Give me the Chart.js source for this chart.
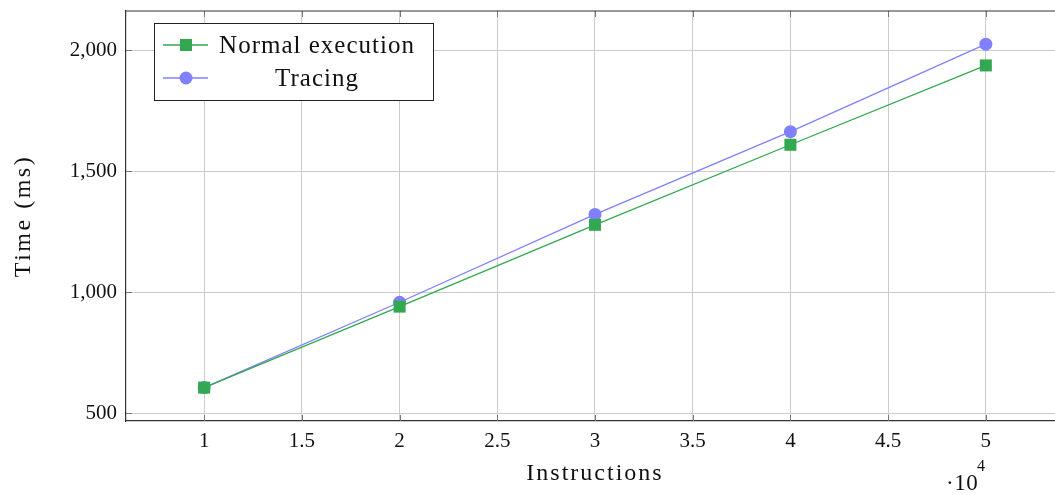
<!DOCTYPE html>
<html>
<head>
<meta charset="utf-8">
<script src="https://cdn.jsdelivr.net/npm/chart.js@4.4.0/dist/chart.umd.min.js"></script>
<style>
  html, body { margin: 0; padding: 0; background: #fff; overflow: hidden; }
  #wrap { width: 1055px; height: 495px; overflow: hidden; }
  #wrap canvas { display: block; }
</style>
</head>
<body>
<div id="wrap"><canvas id="chart" width="1064" height="495"></canvas></div>
<script>
const instructions = [1, 2, 3, 4, 5];           // x 10^4
const normalTimes = [606, 941, 1279, 1610, 1938];
const tracingTimes = [606, 959, 1322, 1664, 2026];
const xTicks = [1, 1.5, 2, 2.5, 3, 3.5, 4, 4.5, 5];
const yTicks = [500, 1000, 1500, 2000];
const xTitle = 'Instructions';
const yTitle = 'Time (ms)';

const serif = "'Liberation Serif', 'DejaVu Serif', serif";
const green = 'rgb(50, 168, 80)';
const blue = 'rgb(128, 128, 255)';

const toPoints = (ys) => instructions.map((x, i) => ({ x: x, y: ys[i] }));

// no extra margins for labels, chart area is set by the axis sizes
const noPad = (s) => { s.paddingTop = 0; s.paddingBottom = 0; s.paddingLeft = 0; s.paddingRight = 0; };

// inside tick marks, top frame, axis titles, legend and the axis multiplier
const extras = {
  id: 'extras',
  afterDraw(chart) {
    const ctx = chart.ctx;
    const a = chart.chartArea;
    const xs = chart.scales.x, ys = chart.scales.y;
    ctx.save();
    ctx.strokeStyle = '#777';
    ctx.lineWidth = 1;
    ctx.beginPath();
    xTicks.forEach(v => {
      const px = Math.round(xs.getPixelForValue(v)) + 0.5;
      ctx.moveTo(px, a.bottom); ctx.lineTo(px, a.bottom - 6);
      ctx.moveTo(px, a.top); ctx.lineTo(px, a.top + 6);
    });
    yTicks.forEach(v => {
      const py = Math.round(ys.getPixelForValue(v)) + 0.5;
      ctx.moveTo(a.left, py); ctx.lineTo(a.left + 6, py);
    });
    ctx.stroke();

    ctx.strokeStyle = '#333';
    ctx.lineWidth = 1.2;
    ctx.beginPath();
    ctx.moveTo(a.left, a.top); ctx.lineTo(a.right, a.top);
    ctx.stroke();

    // axis titles
    ctx.fillStyle = '#111';
    ctx.textAlign = 'center';
    ctx.textBaseline = 'middle';
    ctx.font = '24px ' + serif;
    ctx.letterSpacing = '2px';
    ctx.fillText(xTitle, 595, 474);
    ctx.save();
    ctx.translate(24, 216);
    ctx.rotate(-Math.PI / 2);
    ctx.letterSpacing = '2.5px';
    ctx.fillText(yTitle, 0, 0);
    ctx.restore();

    // legend
    const lx = 154.5, ly = 23.5, lw = 279, lh = 77;
    ctx.fillStyle = '#fff';
    ctx.fillRect(lx, ly, lw, lh);
    ctx.strokeStyle = '#222';
    ctx.lineWidth = 1;
    ctx.strokeRect(lx, ly, lw, lh);
    ctx.font = '25px ' + serif;
    ctx.letterSpacing = '1px';
    chart.data.datasets.forEach((ds, i) => {
      const cy = 45 + i * 33;
      ctx.strokeStyle = ds.borderColor;
      ctx.lineWidth = 1.3;
      ctx.beginPath();
      ctx.moveTo(163, cy); ctx.lineTo(208, cy);
      ctx.stroke();
      ctx.fillStyle = ds.backgroundColor;
      if (ds.pointStyle === 'rect') {
        ctx.fillRect(180, cy - 6, 12, 12);
      } else {
        ctx.beginPath();
        ctx.arc(186, cy, 6.5, 0, Math.PI * 2);
        ctx.fill();
      }
      ctx.fillStyle = '#111';
      ctx.fillText(ds.label, 317, cy + 1);
    });

    // x multiplier
    ctx.letterSpacing = '0.5px';
    ctx.fillStyle = '#111';
    ctx.textAlign = 'left';
    ctx.font = '23px ' + serif;
    ctx.fillText('\u00b710', 946, 484);
    ctx.font = '16px ' + serif;
    ctx.fillText('4', 977, 467);
    ctx.restore();
  }
};

new Chart(document.getElementById('chart'), {
  type: 'line',
  data: {
    datasets: [
      {
        label: 'Normal execution',
        data: toPoints(normalTimes),
        borderColor: green,
        backgroundColor: green,
        borderWidth: 1.3,
        pointStyle: 'rect',
        pointRadius: 8.5,
        pointBorderWidth: 0,
        tension: 0
      },
      {
        label: 'Tracing',
        data: toPoints(tracingTimes),
        borderColor: blue,
        backgroundColor: blue,
        borderWidth: 1.3,
        pointStyle: 'circle',
        pointRadius: 6.5,
        pointBorderWidth: 0,
        tension: 0
      }
    ]
  },
  options: {
    responsive: false,
    animation: false,
    layout: { autoPadding: false, padding: { top: 11, right: 0, left: 0, bottom: 0 } },
    plugins: { legend: { display: false }, tooltip: { enabled: false } },
    scales: {
      x: {
        type: 'linear',
        min: 0.6,
        max: 5.4,
        afterBuildTicks: (s) => { s.ticks = xTicks.map(v => ({ value: v })); },
        afterFit: (s) => { s.height = 74; noPad(s); },
        ticks: {
          color: '#111',
          font: { family: serif, size: 21 },
          padding: 8,
          maxRotation: 0,
          callback: (v) => String(v)
        },
        grid: { color: '#cccccc', drawTicks: false },
        border: { color: '#333', width: 1.2 }
      },
      y: {
        min: 468,
        max: 2163,
        afterBuildTicks: (s) => { s.ticks = yTicks.map(v => ({ value: v })); },
        afterFit: (s) => { s.width = 126; noPad(s); },
        ticks: {
          color: '#111',
          font: { family: serif, size: 21 },
          padding: 9,
          callback: (v) => v.toLocaleString('en-US')
        },
        grid: { color: '#cccccc', drawTicks: false },
        border: { color: '#333', width: 1.2 }
      }
    }
  },
  plugins: [extras]
});
</script>
</body>
</html>
